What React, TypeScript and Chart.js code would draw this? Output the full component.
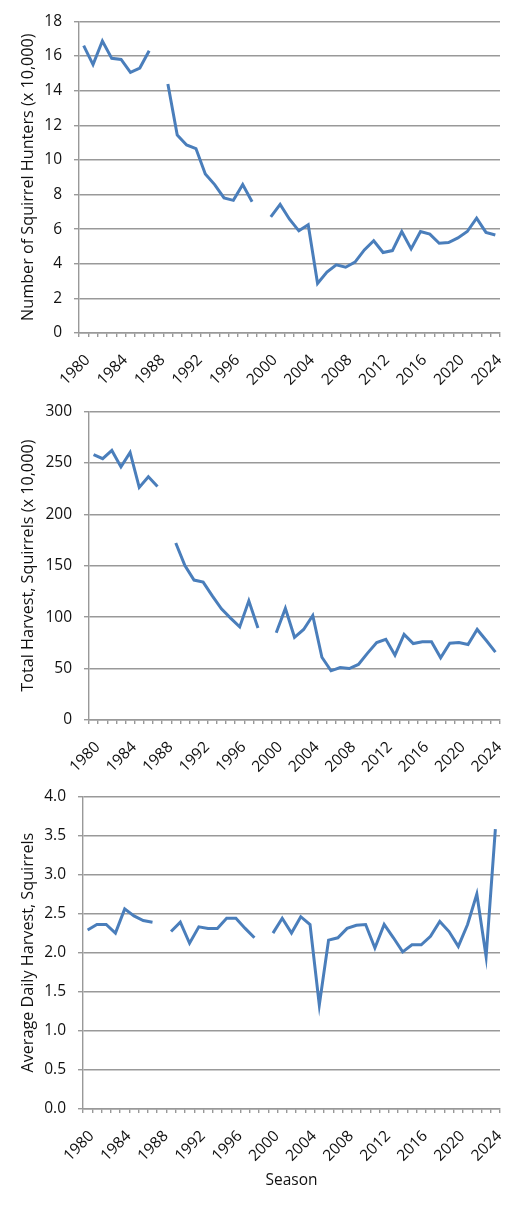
import React, { useEffect, useRef } from "react";
import { Chart, registerables } from "chart.js";

Chart.register(...registerables);

const years: string[] = [];
for (let y = 1980; y <= 2024; y++) years.push(String(y));

const hunters: (number | null)[] = [
  16.6, 15.5, 16.86, 15.86, 15.8, 15.05, 15.3, 16.3, null,
  14.38, 11.43, 10.86, 10.65, 9.18, 8.57, 7.8, 7.66, 8.57, 7.58, null,
  6.7, 7.43, 6.57, 5.9, 6.25, 2.86, 3.52, 3.94, 3.8, 4.09, 4.8, 5.33, 4.65, 4.76,
  5.86, 4.86, 5.86, 5.71, 5.18, 5.22, 5.49, 5.86, 6.63, 5.81, 5.66,
];

const harvest: (number | null)[] = [
  258, 254, 262, 246, 260, 226, 236.4, 227, null,
  172, 150, 136, 134, 120.6, 108, 99, 90.5, 115.8, 89.5, null,
  84.8, 108.5, 80.4, 88, 101.6, 61, 47.8, 51, 50, 54, 65, 75.3, 78.5, 63,
  83.2, 74.3, 76, 76, 60.4, 74.6, 75.3, 73.4, 88, 77.2, 66,
];

const dailyHarvest: (number | null)[] = [
  2.29, 2.36, 2.36, 2.25, 2.56, 2.47, 2.41, 2.39, null,
  2.27, 2.39, 2.12, 2.33, 2.31, 2.31, 2.44, 2.44, 2.31, 2.19, null,
  2.25, 2.44, 2.25, 2.46, 2.36, 1.33, 2.16, 2.19, 2.31, 2.35, 2.36, 2.06, 2.36, 2.19,
  2.01, 2.1, 2.1, 2.21, 2.4, 2.27, 2.08, 2.36, 2.75, 1.95, 3.58,
];

const FONT = "'Open Sans', 'DejaVu Sans', sans-serif";
const FS = 15.5;
const TFS = 16.2;
const GRID = "#999999";
const TEXT = "#111111";
const LINE = "#4a7ebb";

type PanelProps = {
  top: number;
  height: number;
  padTop: number;
  yWidth: number;
  xHeight: number;
  data: (number | null)[];
  yMax: number;
  yStep: number;
  decimals: number;
  yTitle: string;
  xTitle?: string;
};

function Panel(p: PanelProps) {
  const ref = useRef<HTMLCanvasElement | null>(null);
  useEffect(() => {
    if (!ref.current) return;
    const chart = new Chart(ref.current, {
      type: "line",
      data: {
        labels: years,
        datasets: [
          {
            data: p.data,
            borderColor: LINE,
            backgroundColor: LINE,
            borderWidth: 3,
            pointRadius: 0,
            tension: 0,
            spanGaps: false,
            fill: false,
          },
        ],
      },
      options: {
        animation: false,
        responsive: false,
        maintainAspectRatio: false,
        layout: { padding: { top: p.padTop, left: 0, right: 25, bottom: 0 } },
        plugins: { legend: { display: false }, tooltip: { enabled: false } },
        scales: {
          x: {
            type: "category",
            offset: true,
            grid: {
              display: true,
              drawOnChartArea: false,
              drawTicks: true,
              tickLength: 4,
              offset: true,
              color: GRID,
              lineWidth: 1.4,
            },
            border: { display: true, color: GRID, width: 1.4 },
            ticks: {
              autoSkip: false,
              minRotation: 45,
              maxRotation: 45,
              padding: 14,
              labelOffset: 4,
              color: TEXT,
              font: { family: FONT, size: FS },
              callback: (_v: any, i: number) => (i % 4 === 0 ? years[i] : ""),
            },
            title: p.xTitle
              ? {
                  display: true,
                  text: p.xTitle,
                  color: TEXT,
                  font: { family: FONT, size: FS },
                  padding: { top: 4, bottom: 17 },
                }
              : { display: false },
            afterFit: (s: any) => {
              s.height = p.xHeight;
            },
          },
          y: {
            min: 0,
            max: p.yMax,
            grid: {
              color: GRID,
              lineWidth: 1.4,
              drawTicks: true,
              tickLength: 5,
            },
            border: { display: true, color: GRID, width: 1.4 },
            ticks: {
              stepSize: p.yStep,
              padding: 12,
              color: TEXT,
              font: { family: FONT, size: FS },
              callback: (v: any) => Number(v).toFixed(p.decimals),
            },
            title: {
              display: true,
              text: p.yTitle,
              color: TEXT,
              font: { family: FONT, size: TFS },
              padding: { top: 19, bottom: 4 },
            },
            afterFit: (s: any) => {
              s.width = p.yWidth;
            },
          },
        },
      } as any,
    });
    return () => chart.destroy();
  }, []);
  return (
    <canvas
      ref={ref}
      width={525}
      height={p.height}
      style={{ position: "absolute", left: 0, top: p.top, width: 525, height: p.height, display: "block" }}
    />
  );
}

export default function App() {
  return (
    <div style={{ position: "absolute", left: 0, top: 0, width: 525, height: 1207, background: "#fff" }}>
      <Panel
        top={0}
        height={390}
        padTop={18}
        yWidth={79}
        xHeight={57}
        data={hunters}
        yMax={18}
        yStep={2}
        decimals={0}
        yTitle="Number of Squirrel Hunters (x 10,000)"
      />
      <Panel
        top={390}
        height={385}
        padTop={15}
        yWidth={89}
        xHeight={55}
        data={harvest}
        yMax={300}
        yStep={50}
        decimals={0}
        yTitle="Total Harvest, Squirrels (x 10,000)"
      />
      <Panel
        top={775}
        height={432}
        padTop={19}
        yWidth={83}
        xHeight={98}
        data={dailyHarvest}
        yMax={4}
        yStep={0.5}
        decimals={1}
        yTitle="Average Daily Harvest, Squirrels"
        xTitle="Season"
      />
    </div>
  );
}
